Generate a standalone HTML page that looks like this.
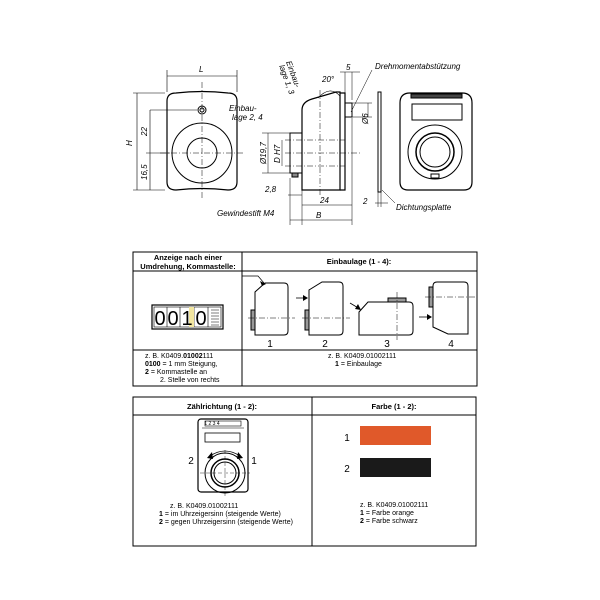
<!DOCTYPE html>
<html><head><meta charset="utf-8"><style>
html,body{margin:0;padding:0;background:#fff;}
svg{display:block;font-family:"Liberation Sans",sans-serif;}
.t{font-size:8px;font-style:italic;}
.s{font-size:7px;}
</style></head><body>
<svg width="600" height="600" viewBox="0 0 600 600" xmlns="http://www.w3.org/2000/svg">
<g fill="none" stroke="#000" stroke-width="1">
<!-- Front view -->
<path d="M167 101 Q167 93 176 93 Q202 90 228 93 Q237 93 237 101 L237 182 Q237 190 228 190 Q202 187 176 190 Q167 190 167 182 Z" stroke-width="1.2"/>
<circle cx="202" cy="153" r="30"/>
<circle cx="202" cy="153" r="15"/>
<circle cx="202" cy="110" r="4"/><circle cx="202" cy="110" r="2"/>
<path d="M202 82 V200 M160 153 H244" stroke-width="0.5" stroke-dasharray="6 2 1 2"/>
<path d="M167 76 H237 M167 70 V92 M237 70 V92" stroke-width="0.6"/>
<path d="M137 93 V190 M133 93 H165 M133 190 H165 M150 110 V190 M150 110 H197 M146 153 H170" stroke-width="0.6"/>
<!-- Side view -->
<path d="M302 190 L302 110 Q302 102 312 99 L336 92 L340 92 L340 190 Z" stroke-width="1.2"/>
<path d="M340 93 H345 V190 H340" stroke-width="1.2"/>
<rect x="290" y="133" width="12" height="40"/>
<rect x="292" y="173" width="6" height="4" fill="#888"/>
<rect x="345" y="103" width="7" height="14"/>
<path d="M285 153 H360 M285 140 H345 M285 166 H345 M320 90 V195" stroke-width="0.5" stroke-dasharray="6 2 1 2"/>
<path d="M262 133 H290 M262 173 H290 M268 133 V173 M282 140 V166" stroke-width="0.5"/>
<path d="M302 205 H352 M302 190 V225 M290 220 H352 M290 178 V225 M352 118 V225 M288 195 H302" stroke-width="0.5"/>
<path d="M352 72 V100 M345 72 V100 M340 72 H360 M352 103 H372 M352 117 H372 M368 103 V117" stroke-width="0.5"/>
<path d="M318 98 Q330 85 340 96" stroke-width="0.6"/>
<!-- plate -->
<rect x="378" y="92" width="3" height="100" stroke-width="1"/>
<path d="M375 203 H388 M378 192 V207 M381 192 V207" stroke-width="0.5"/>
<path d="M351 112 L372 70 M382 190 L395 203" stroke-width="0.5"/>
<!-- Back view -->
<path d="M400 103 Q400 93 410 93 L462 93 Q472 93 472 103 L472 182 Q472 190 464 190 L408 190 Q400 190 400 182 Z" stroke-width="1.2"/>
<rect x="411" y="94" width="51" height="4" fill="#444"/>
<rect x="412" y="104" width="50" height="16"/>
<circle cx="435" cy="152" r="27"/>
<circle cx="435" cy="152" r="19" stroke-width="1.5"/>
<circle cx="435" cy="152" r="15"/>
<rect x="431" y="174" width="8" height="4"/>
<!-- Table 1 -->
<rect x="133" y="252" width="344" height="134"/>
<path d="M133 271 H477 M133 350 H477 M242 252 V386"/>
<rect x="152" y="305" width="71" height="24" stroke-width="1.2"/>
<rect x="154" y="307" width="67" height="20" stroke-width="0.6"/>
<path d="M167 307 V327 M180 307 V327 M194 307 V327 M208 307 V327" stroke-width="0.6"/>
<path d="M211 310 H219 M211 313 H219 M211 316 H219 M211 319 H219 M211 322 H219 M211 325 H219" stroke-width="0.6"/>
<!-- figures -->
<path d="M255 335 V292 L265 283 H284 Q288 283 288 287 V331 Q288 335 284 335 Z"/>
<rect x="251" y="310" width="4" height="20" fill="#999"/>
<path d="M248 318 H295" stroke-width="0.5" stroke-dasharray="6 2 1 2"/>
<path d="M242 276 H258 L264 283" stroke-width="0.7"/>
<path d="M309 335 V290 L322 282 H339 Q343 282 343 286 V331 Q343 335 339 335 Z"/>
<rect x="305" y="310" width="4" height="20" fill="#999"/>
<path d="M302 318 H350" stroke-width="0.5" stroke-dasharray="6 2 1 2"/>
<path d="M296 298 H306" stroke-width="0.8"/>
<path d="M359 335 V312 L368 302 H409 Q413 302 413 306 V331 Q413 335 409 335 Z"/>
<rect x="388" y="298" width="18" height="4" fill="#999"/>
<path d="M397 292 V340" stroke-width="0.5" stroke-dasharray="6 2 1 2"/>
<path d="M350 303 L360 309" stroke-width="0.8"/>
<path d="M437 282 H464 Q468 282 468 286 V334 H448 L433 327 V286 Q433 282 437 282 Z"/>
<rect x="429" y="287" width="4" height="20" fill="#999"/>
<path d="M425 297 H475" stroke-width="0.5" stroke-dasharray="6 2 1 2"/>
<path d="M419 317 H430" stroke-width="0.8"/>
<!-- Table 2 -->
<rect x="133" y="397" width="343" height="149"/>
<path d="M133 415 H476 M312 397 V546"/>
<rect x="198" y="419" width="50" height="73" rx="3" stroke-width="1.2"/>
<rect x="205" y="421" width="36" height="5" stroke-width="0.6"/>
<path d="M202 428 H244" stroke-width="0.6"/>
<rect x="205" y="433" width="35" height="9" stroke-width="0.8"/>
<circle cx="225" cy="473" r="20"/>
<circle cx="225" cy="473" r="14" stroke-width="1.5"/>
<circle cx="225" cy="473" r="11"/>
<path d="M225 450 V496 M200 473 H250" stroke-width="0.4" stroke-dasharray="4 2"/>
<path d="M210 456 Q225 446 240 456" stroke-width="0.8"/>
</g>
<g fill="#000">
<path d="M207 458 L212 452 L213 459 Z M243 458 L238 452 L237 459 Z"/>
<path d="M308 298 L303 295 L303 301 Z M361 310 L355 309 L358 304 Z M432 317 L427 314 L427 320 Z M266 284 L260 281 L262 286 Z"/>
<rect x="360" y="426" width="71" height="19" fill="#e0592a"/>
<rect x="360" y="458" width="71" height="19" fill="#1a1a1a"/>
</g>
<rect x="189" y="307" width="5" height="20" fill="#f2e6a0"/>
<g class="t">
<text x="199" y="72">L</text>
<text transform="translate(132,146) rotate(-90)">H</text>
<text transform="translate(147,136) rotate(-90)">22</text>
<text transform="translate(147,180) rotate(-90)">16,5</text>
<text x="229" y="111">Einbau-</text><text x="232" y="120">lage 2, 4</text>
<text transform="translate(286,62) rotate(70)">Einbau-</text>
<text transform="translate(279,66) rotate(70)">lage 1, 3</text>
<text x="322" y="82">20°</text>
<text x="346" y="70">5</text>
<text x="375" y="69">Drehmomentabstützung</text>
<text transform="translate(368,124) rotate(-90)">Ø6</text>
<text transform="translate(266,164) rotate(-90)">Ø19,7</text>
<text transform="translate(280,163) rotate(-90)">D H7</text>
<text x="265" y="192">2,8</text>
<text x="320" y="203">24</text>
<text x="316" y="218">B</text>
<text x="363" y="204">2</text>
<text x="396" y="210">Dichtungsplatte</text>
<text x="217" y="216">Gewindestift M4</text>
</g>
<g font-size="7.5" font-weight="bold" text-anchor="middle">
<text x="188" y="260">Anzeige nach einer</text>
<text x="188" y="269">Umdrehung, Kommastelle:</text>
<text x="359" y="264">Einbaulage (1 - 4):</text>
<text x="222" y="409">Zählrichtung (1 - 2):</text>
<text x="394" y="409">Farbe (1 - 2):</text>
</g>
<g font-size="20" text-anchor="middle">
<text x="160" y="325">0</text><text x="173" y="325">0</text><text x="187" y="325">1</text><text x="201" y="325">0</text>
</g>
<g font-size="10" text-anchor="middle">
<text x="270" y="347">1</text><text x="325" y="347">2</text><text x="387" y="347">3</text><text x="451" y="347">4</text>
<text x="191" y="464">2</text><text x="254" y="464">1</text>
<text x="347" y="441">1</text><text x="347" y="472">2</text>
</g>
<g class="s">
<text x="145" y="358">z. B.  K0409.<tspan font-weight="bold">01002</tspan>111</text>
<text x="145" y="366"><tspan font-weight="bold">0100</tspan> = 1 mm Steigung,</text>
<text x="145" y="374"><tspan font-weight="bold">2</tspan> = Kommastelle an</text>
<text x="160" y="382">2. Stelle von rechts</text>
<text x="328" y="358">z. B. K0409.01002111</text>
<text x="335" y="366"><tspan font-weight="bold">1</tspan> = Einbaulage</text>
<text x="170" y="508">z. B.  K0409.01002111</text>
<text x="159" y="516"><tspan font-weight="bold">1</tspan> = im Uhrzeigersinn (steigende Werte)</text>
<text x="159" y="524"><tspan font-weight="bold">2</tspan> = gegen Uhrzeigersinn (steigende Werte)</text>
<text x="360" y="507">z. B. K0409.01002111</text>
<text x="360" y="515"><tspan font-weight="bold">1</tspan> = Farbe orange</text>
<text x="360" y="523"><tspan font-weight="bold">2</tspan> = Farbe schwarz</text>
</g>
<text x="212" y="425" font-size="5" text-anchor="middle">1 2 3 4</text>
</svg>
</body></html>
